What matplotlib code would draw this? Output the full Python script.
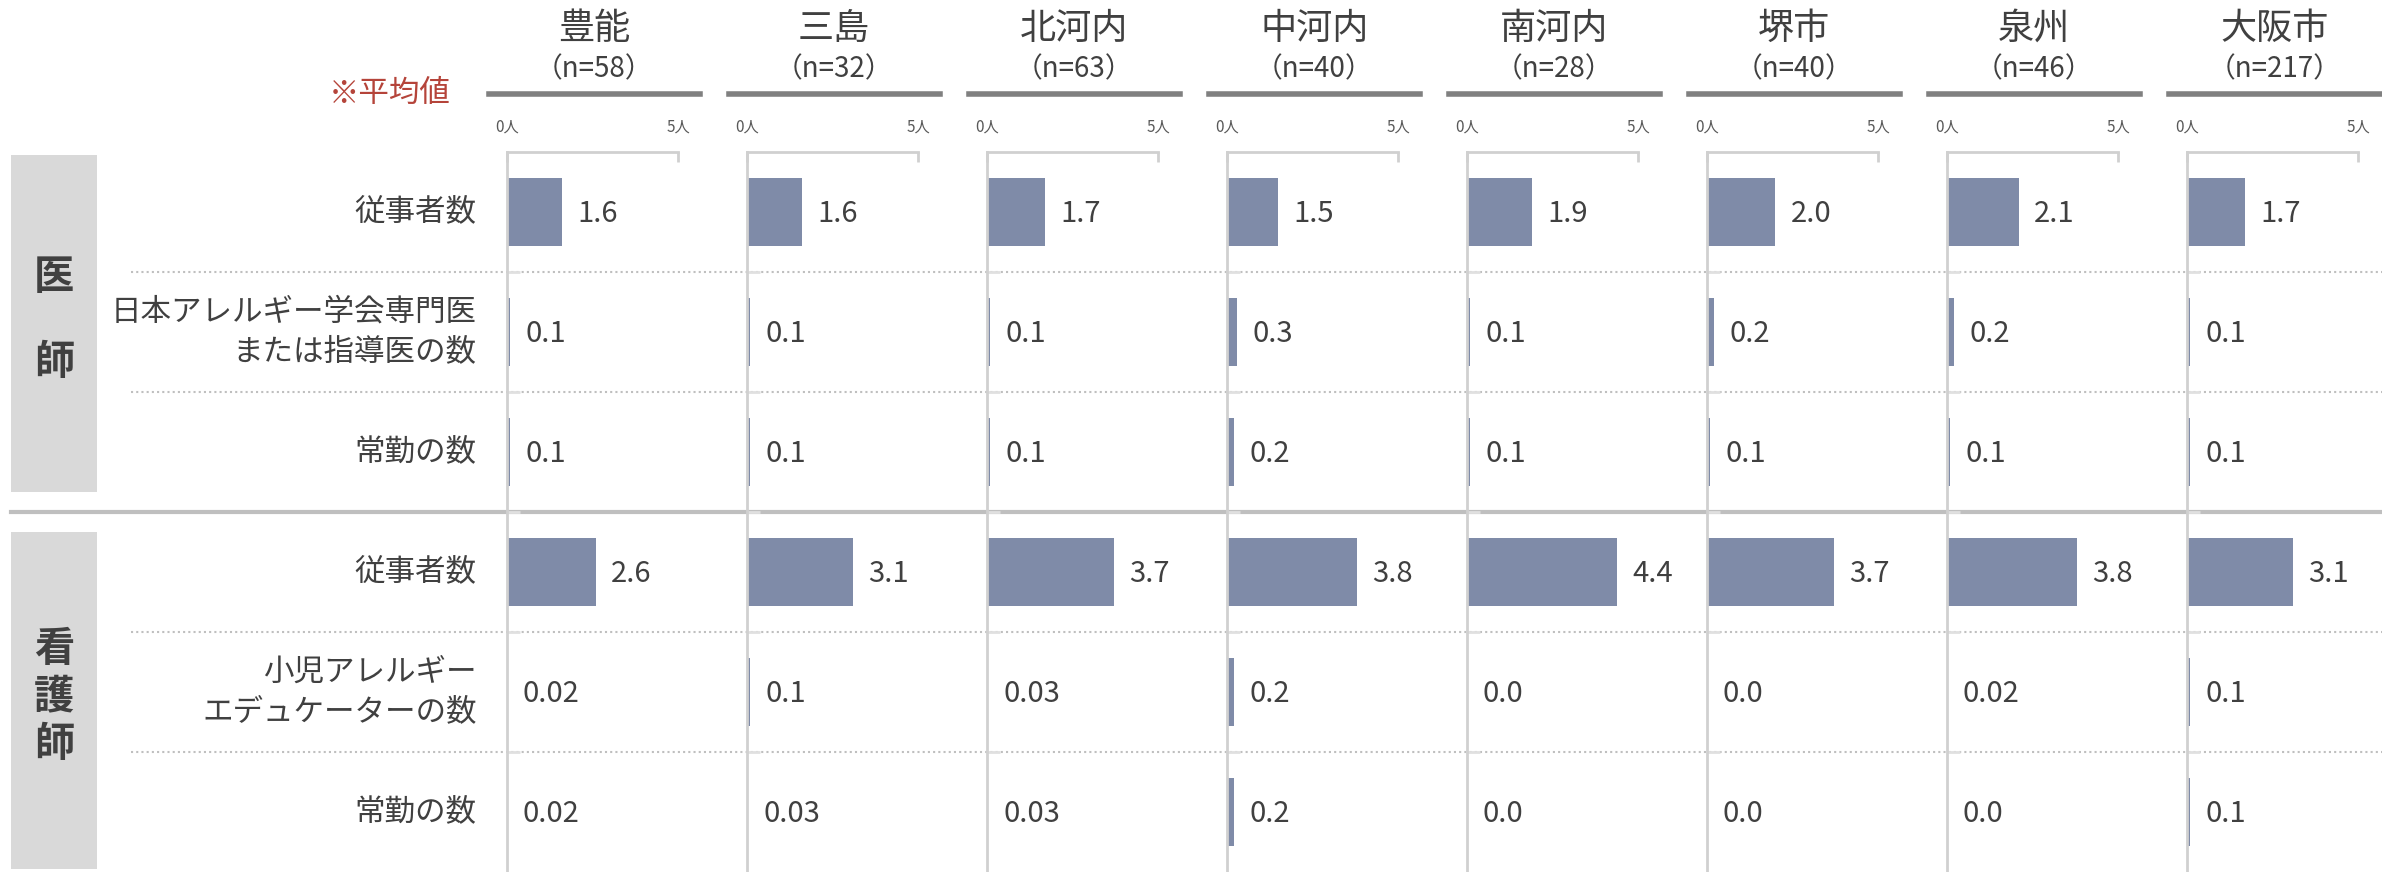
import matplotlib.pyplot as plt
from matplotlib.lines import Line2D
from matplotlib.patches import Rectangle

plt.rcParams['font.family'] = ['Noto Sans CJK JP', 'DejaVu Sans']

# Regions (columns) and their sample sizes
REGIONS = ["豊能", "三島", "北河内", "中河内", "南河内", "堺市", "泉州", "大阪市"]
SAMPLE_N = [58, 32, 63, 40, 28, 40, 46, 217]

# Row labels, top to bottom
ROW_LABELS = ["従事者数",
              "日本アレルギー学会専門医\nまたは指導医の数",
              "常勤の数",
              "従事者数",
              "小児アレルギー\nエデュケーターの数",
              "常勤の数"]

# Average number of staff per facility (医師 rows 0-2, 看護師 rows 3-5)
TOYONO = [1.6, 0.1, 0.1, 2.6, 0.02, 0.02]
MISHIMA = [1.6, 0.1, 0.1, 3.1, 0.1, 0.03]
KITAKAWACHI = [1.7, 0.1, 0.1, 3.7, 0.03, 0.03]
NAKAKAWACHI = [1.5, 0.3, 0.2, 3.8, 0.2, 0.2]
MINAMIKAWACHI = [1.9, 0.1, 0.1, 4.4, 0.0, 0.0]
SAKAI = [2.0, 0.2, 0.1, 3.7, 0.0, 0.0]
SENSHU = [2.1, 0.2, 0.1, 3.8, 0.02, 0.0]
OSAKA = [1.7, 0.1, 0.1, 3.1, 0.1, 0.1]
ALL_VALUES = [TOYONO, MISHIMA, KITAKAWACHI, NAKAKAWACHI,
              MINAMIKAWACHI, SAKAI, SENSHU, OSAKA]

BAR_COLOR = "#7f8ba8"
TEXT_COLOR = "#404040"
AXIS_GRAY = "#d0d0d0"

W, H = 2382, 872
fig = plt.figure(figsize=(W / 100, H / 100), dpi=100)


def fmt(v):
    # small non-zero averages are shown with two decimals
    if 0 < v < 0.05:
        return f"{v:.2f}"
    return f"{v:.1f}"


axes = []
for k, region in enumerate(REGIONS):
    left = (507 + 240 * k) / W
    ax = fig.add_axes([left, 0, 171 / W, 720 / H])
    axes.append(ax)
    vals = ALL_VALUES[k]
    rows = list(range(len(vals)))
    ax.barh(rows, vals, height=0.56, color=BAR_COLOR)
    ax.set_xlim(0, 5)
    ax.set_ylim(len(vals) - 0.5, -0.5)

    for r, v in zip(rows, vals):
        ax.annotate(fmt(v), xy=(v, r), xytext=(11, -1.5),
                    textcoords="offset points", ha="left", va="center",
                    fontsize=21, color=TEXT_COLOR)

    # axis styling: thin gray zero line and top bracket
    for side in ["right", "bottom"]:
        ax.spines[side].set_visible(False)
    ax.spines["left"].set_color(AXIS_GRAY)
    ax.spines["left"].set_linewidth(2)
    ax.spines["top"].set_color(AXIS_GRAY)
    ax.spines["top"].set_linewidth(2)
    ax.spines["top"].set_bounds(0, 5)
    ax.xaxis.tick_top()
    ax.set_xticks([0, 5])
    ax.set_xticklabels(["0人", "5人"])
    ax.tick_params(axis="x", direction="in", length=7, width=2,
                   color=AXIS_GRAY, labelsize=11, labelcolor="#595959", pad=12)
    ax.set_yticks([0.5, 1.5, 2.5, 3.5, 4.5])
    ax.set_yticklabels([])
    ax.tick_params(axis="y", direction="in", length=9, width=2,
                   color="#e0e0e0")
    ax.patch.set_alpha(0)

    # region header with n and underline
    ax.text(0.51, 1.171, region, transform=ax.transAxes, ha="center",
            va="center", fontsize=26, color=TEXT_COLOR)
    ax.text(0.51, 1.115, f"（n={SAMPLE_N[k]}）", transform=ax.transAxes,
            ha="center", va="center", fontsize=20, color=TEXT_COLOR)
    ax.add_line(Line2D([-0.105, 1.13], [1.081, 1.081], transform=ax.transAxes,
                       color="#808080", linewidth=4, clip_on=False))

# row labels to the left of the first panel
first = axes[0]
for r, label in enumerate(ROW_LABELS):
    first.annotate(label, xy=(0, r), xycoords=("axes fraction", "data"),
                   xytext=(-22, 0), textcoords="offset points", ha="right",
                   va="center", fontsize=22, color=TEXT_COLOR, linespacing=1.35)

first.text(-0.33, 1.081, "※平均値", transform=first.transAxes, ha="right",
           va="center", fontsize=22, color="#b5443a")

# separators between rows, spanning the whole figure
to_fig = first.transData + fig.transFigure.inverted()
for yb in [0.5, 1.5, 3.5, 4.5]:
    yf = to_fig.transform((0, yb))[1]
    fig.add_artist(Line2D([131 / W, 1], [yf, yf], color="#bfbfbf",
                          linewidth=1.5, linestyle=(0, (1, 1.5)), zorder=0))
ys = to_fig.transform((0, 2.5))[1]
fig.add_artist(Line2D([11 / W, 1], [ys, ys], color="#bfbfbf", linewidth=3,
                      zorder=0))

# group boxes on the far left
for top, bottom, text, spacing in [(155, 492, "医\n\n師", 1.05),
                                   (532, 869, "看\n護\n師", 1.2)]:
    fig.add_artist(Rectangle((11 / W, 1 - bottom / H), 86 / W,
                             (bottom - top) / H, transform=fig.transFigure,
                             facecolor="#d9d9d9", edgecolor="none", zorder=0))
    fig.text(54 / W, 1 - (top + bottom) / 2 / H + 0.004, text, ha="center",
             va="center", fontsize=29, fontweight="bold", color=TEXT_COLOR,
             linespacing=spacing)

fig.savefig("out.png", dpi=100)
